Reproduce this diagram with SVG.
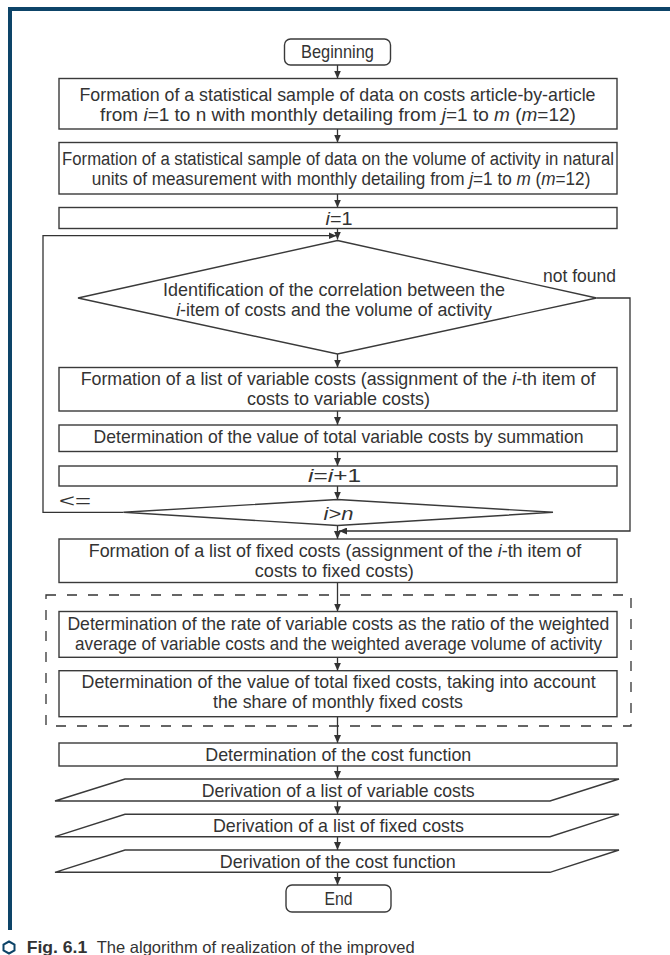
<svg xmlns="http://www.w3.org/2000/svg" width="670" height="955" viewBox="0 0 670 955">
<defs>
<marker id="ah" markerUnits="userSpaceOnUse" markerWidth="8" markerHeight="7" refX="8" refY="3.5" orient="auto">
<path d="M0,0 L8,3.5 L0,7 z" fill="#333"/>
</marker>
<style>
.bx{fill:#fff;stroke:#3a3a3a;stroke-width:1.4}
.t{font-family:"Liberation Sans",Arial,sans-serif;font-size:19px;fill:#333;text-anchor:middle}
.it{font-style:italic}
.ar{fill:none;stroke:#333;stroke-width:1.3;marker-end:url(#ah)}
.dash{fill:none;stroke:#333;stroke-width:1.3;stroke-dasharray:10 11}
.cap{font-family:"Liberation Sans",Arial,sans-serif;font-size:16.5px;fill:#333}
</style>
</defs>
<rect width="670" height="955" fill="#fff"/>
<g id="frame">
<rect x="8" y="7" width="662" height="4" fill="#0d4468"/>
<rect x="8" y="7" width="4" height="923" fill="#0d4468"/>
</g>
<g id="dashed-group">
<rect class="dash" x="46" y="595" width="585" height="131"/>
</g>
<g id="connectors">
<line class="ar" x1="337.5" y1="65" x2="337.5" y2="78.5"/>
<line class="ar" x1="337.5" y1="129" x2="337.5" y2="142.5"/>
<line class="ar" x1="337.5" y1="194" x2="337.5" y2="207.5"/>
<line class="ar" x1="337.5" y1="228.5" x2="337.5" y2="239.5"/>
<polyline class="ar" points="123.5,512.3 43,512.3 43,235.7 336.5,235.7"/>
<polyline class="ar" points="596.5,298 630,298 630,531 339,531"/>
<line class="ar" x1="337.5" y1="354" x2="337.5" y2="367.5"/>
<line class="ar" x1="337.5" y1="411" x2="337.5" y2="425"/>
<line class="ar" x1="337.5" y1="451.5" x2="337.5" y2="466"/>
<line class="ar" x1="337.5" y1="486" x2="337.5" y2="499.5"/>
<line class="ar" x1="337.5" y1="525.5" x2="337.5" y2="539"/>
<line class="ar" x1="337.5" y1="582.5" x2="337.5" y2="611.5"/>
<line class="ar" x1="337.5" y1="657.3" x2="337.5" y2="670.7"/>
<line class="ar" x1="337.5" y1="716.7" x2="337.5" y2="743"/>
<line class="ar" x1="337.5" y1="766" x2="337.5" y2="779"/>
<line class="ar" x1="337.5" y1="801" x2="337.5" y2="814.3"/>
<line class="ar" x1="337.5" y1="836.7" x2="337.5" y2="850"/>
<line class="ar" x1="337.5" y1="872.3" x2="337.5" y2="885"/>
<text class="t" x="75" y="507" textLength="32" lengthAdjust="spacingAndGlyphs">&lt;=</text>
<text class="t" x="616" y="282" style="text-anchor:end" textLength="73" lengthAdjust="spacingAndGlyphs">not found</text>
</g>
<g id="begin">
<rect class="bx" x="284.5" y="39" width="106" height="26" rx="6"/>
<text class="t" x="337.5" y="58" textLength="73" lengthAdjust="spacingAndGlyphs">Beginning</text>
</g>
<g id="sample-costs">
<rect class="bx" x="59" y="78.5" width="558" height="50.5"/>
<text class="t" x="337.5" y="101" textLength="516" lengthAdjust="spacingAndGlyphs">Formation of a statistical sample of data on costs article-by-article</text>
<text class="t" x="338" y="121">from <tspan class="it">i</tspan>=1 to n with monthly detailing from <tspan class="it">j</tspan>=1 to <tspan class="it">m</tspan> (<tspan class="it">m</tspan>=12)</text>
</g>
<g id="sample-volume">
<rect class="bx" x="59" y="142.5" width="558" height="51.5"/>
<text class="t" transform="translate(338,165) scale(0.8786,1)" x="0" y="0">Formation of a statistical sample of data on the volume of activity in natural</text>
<text class="t" transform="translate(341,185) scale(0.9035,1)" x="0" y="0">units of measurement with monthly detailing from <tspan class="it">j</tspan>=1 to <tspan class="it">m</tspan> (<tspan class="it">m</tspan>=12)</text>
</g>
<g id="init-i">
<rect class="bx" x="59" y="207.5" width="558" height="21"/>
<text class="t" x="339" y="225" textLength="27" lengthAdjust="spacingAndGlyphs"><tspan class="it">i</tspan>=1</text>
</g>
<g id="correlation">
<polygon class="bx" points="337.5,240.5 596.5,298 337.5,354 78,298"/>
<text class="t" x="334" y="296" textLength="342" lengthAdjust="spacingAndGlyphs">Identification of the correlation between the</text>
<text class="t" transform="translate(334,316) scale(0.938,1)" x="0" y="0"><tspan class="it">i</tspan>-item of costs and the volume of activity</text>
</g>
<g id="variable-list">
<rect class="bx" x="59" y="367.5" width="558" height="43.5"/>
<text class="t" transform="translate(338,385) scale(0.938,1)" x="0" y="0">Formation of a list of variable costs (assignment of the <tspan class="it">i</tspan>-th item of</text>
<text class="t" x="338.5" y="405" textLength="183" lengthAdjust="spacingAndGlyphs">costs to variable costs)</text>
</g>
<g id="total-variable">
<rect class="bx" x="59" y="425" width="558" height="26.5"/>
<text class="t" x="338.5" y="443" textLength="490" lengthAdjust="spacingAndGlyphs">Determination of the value of total variable costs by summation</text>
</g>
<g id="increment">
<rect class="bx" x="59" y="466" width="558" height="20"/>
<text class="t" x="334.5" y="482" textLength="53" lengthAdjust="spacingAndGlyphs"><tspan class="it">i</tspan>=<tspan class="it">i</tspan>+1</text>
</g>
<g id="check-n">
<polygon class="bx" points="337.5,499.5 553,512.3 337.5,525.5 123.5,512.3"/>
<text class="t" x="338.5" y="520" textLength="30" lengthAdjust="spacingAndGlyphs"><tspan class="it">i</tspan>&gt;<tspan class="it">n</tspan></text>
</g>
<g id="fixed-list">
<rect class="bx" x="59" y="539" width="558" height="43.5"/>
<text class="t" transform="translate(335,556.7) scale(0.943,1)" x="0" y="0">Formation of a list of fixed costs (assignment of the <tspan class="it">i</tspan>-th item of</text>
<text class="t" x="334.3" y="577" textLength="159" lengthAdjust="spacingAndGlyphs">costs to fixed costs)</text>
</g>
<g id="rate-variable">
<rect class="bx" x="59" y="611.5" width="558" height="45.8"/>
<text class="t" x="338.4" y="629.5" textLength="542" lengthAdjust="spacingAndGlyphs">Determination of the rate of variable costs as the ratio of the weighted</text>
<text class="t" x="338.6" y="650" textLength="527" lengthAdjust="spacingAndGlyphs">average of variable costs and the weighted average volume of activity</text>
</g>
<g id="total-fixed">
<rect class="bx" x="59" y="670.7" width="558" height="46"/>
<text class="t" x="338.6" y="688" textLength="514" lengthAdjust="spacingAndGlyphs">Determination of the value of total fixed costs, taking into account</text>
<text class="t" x="338" y="708" textLength="250" lengthAdjust="spacingAndGlyphs">the share of monthly fixed costs</text>
</g>
<g id="cost-function">
<rect class="bx" x="59" y="743" width="558" height="23"/>
<text class="t" x="338.3" y="761" textLength="266" lengthAdjust="spacingAndGlyphs">Determination of the cost function</text>
</g>
<g id="out-variable">
<polygon class="bx" points="125,779 619,779 550,801 55,801"/>
<text class="t" x="338.2" y="797" textLength="273" lengthAdjust="spacingAndGlyphs">Derivation of a list of variable costs</text>
</g>
<g id="out-fixed">
<polygon class="bx" points="125,814.3 619,814.3 550,836.7 55,836.7"/>
<text class="t" x="338.4" y="832" textLength="251" lengthAdjust="spacingAndGlyphs">Derivation of a list of fixed costs</text>
</g>
<g id="out-function">
<polygon class="bx" points="125,850 619,850 550,872.3 55,872.3"/>
<text class="t" x="337.8" y="867.5" textLength="236" lengthAdjust="spacingAndGlyphs">Derivation of the cost function</text>
</g>
<g id="end">
<rect class="bx" x="286" y="885" width="105" height="27" rx="6"/>
<text class="t" x="338.4" y="905" textLength="28" lengthAdjust="spacingAndGlyphs">End</text>
</g>
<g id="caption">
<polygon points="9,941.5 14.5,944.5 14.5,950.5 9,953.5 3.5,950.5 3.5,944.5" fill="none" stroke="#0d4468" stroke-width="2"/>
<text class="cap" x="26.7" y="953" font-weight="bold" fill="#222" textLength="60.6" lengthAdjust="spacingAndGlyphs">Fig. 6.1</text>
<text class="cap" x="96.7" y="953" textLength="318" lengthAdjust="spacingAndGlyphs">The algorithm of realization of the improved</text>
</g>
</svg>
